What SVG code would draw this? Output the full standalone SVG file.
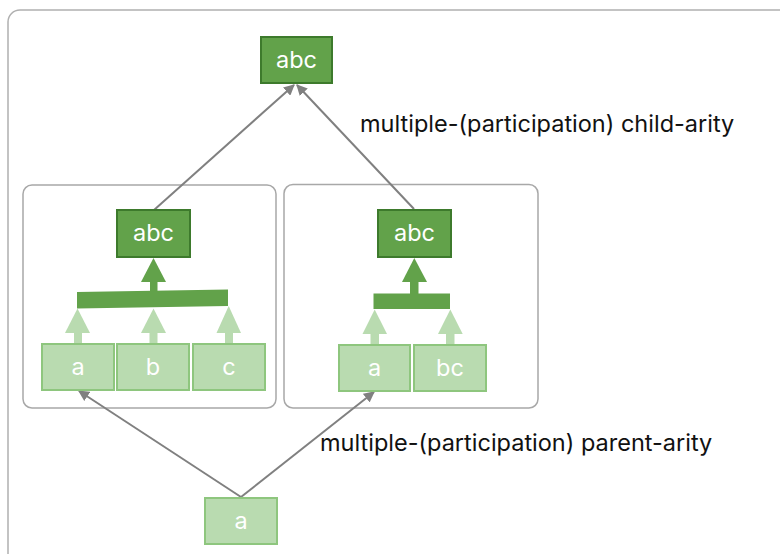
<svg xmlns="http://www.w3.org/2000/svg" width="780" height="554" viewBox="0 0 780 554">
<defs>
<style>
.frame{fill:#fff;stroke:#b0b0b0;stroke-width:1.5}
.grp{fill:none;stroke:#a8a8a8;stroke-width:1.5}
.dark{fill:#62a24a;stroke:#3d7a2c;stroke-width:2}
.light{fill:#b9dbb0;stroke:#8ec67e;stroke-width:2}
.nt{font-family:Inter,"Liberation Sans",sans-serif;font-size:23.5px;fill:#fff;text-anchor:middle;dominant-baseline:central}
.lbl{font-family:Inter,"Liberation Sans",sans-serif;font-size:23.5px;fill:#111}
.conn{stroke:#808080;stroke-width:2;fill:none;marker-end:url(#ah)}
.bar{fill:#62a24a}
.larr{fill:#b9dbb0}
</style>
<marker id="ah" viewBox="0 0 10 10" refX="9" refY="5" markerWidth="5.5" markerHeight="5.5" orient="auto" markerUnits="strokeWidth">
<path d="M0,0 L10,5 L0,10 z" fill="#808080"/>
</marker>
</defs>
<rect class="frame" x="8" y="10" width="792" height="556" rx="12"/>
<g id="group-left"><rect class="grp" x="23" y="185" width="253" height="223" rx="9"/></g>
<g id="group-right"><rect class="grp" x="284" y="184.5" width="254" height="223.5" rx="9"/></g>

<g id="connectors">
<line class="conn" x1="154" y1="210" x2="294" y2="85"/>
<line class="conn" x1="414" y1="209" x2="297" y2="85"/>
<line class="conn" x1="241" y1="497" x2="79" y2="391"/>
<line class="conn" x1="241" y1="497" x2="374" y2="392"/>
</g>

<g id="node-top-abc"><rect class="dark" x="261" y="37" width="71" height="46"/><text class="nt" x="296.5" y="59">abc</text></g>

<g id="left-join">
<polygon class="bar" points="77,292 228,289.5 228,306 77,308.5"/>
<rect class="bar" x="150" y="280" width="7.5" height="11"/>
<polygon class="bar" points="141,282 166,282 153.5,258"/>
<rect class="larr" x="74" y="331" width="8" height="13"/>
<polygon class="larr" points="65,333 90,333 77.5,308.5"/>
<rect class="larr" x="149.5" y="331" width="8" height="13"/>
<polygon class="larr" points="141,333 166,333 153.5,308.5"/>
<rect class="larr" x="225" y="331" width="8" height="13"/>
<polygon class="larr" points="216.5,333 241,333 228.7,306"/>
</g>
<g id="node-left-abc"><rect class="dark" x="117" y="210" width="73" height="47"/><text class="nt" x="153.5" y="232.5">abc</text></g>
<g id="node-left-a"><rect class="light" x="42" y="344" width="72" height="46"/><text class="nt" x="78" y="366">a</text></g>
<g id="node-left-b"><rect class="light" x="117" y="344" width="72" height="46"/><text class="nt" x="153" y="366">b</text></g>
<g id="node-left-c"><rect class="light" x="193" y="344" width="72" height="46"/><text class="nt" x="229" y="366">c</text></g>

<g id="right-join">
<polygon class="bar" points="373.5,293.5 450,293.5 450,309 373.5,309"/>
<rect class="bar" x="410" y="280" width="8.5" height="14"/>
<polygon class="bar" points="402,282 427,282 414.3,258"/>
<rect class="larr" x="370.5" y="331" width="8.5" height="14"/>
<polygon class="larr" points="362.5,334 387,334 374.7,309.5"/>
<rect class="larr" x="446" y="331" width="8.5" height="14"/>
<polygon class="larr" points="438,334 462.7,334 450.3,309.5"/>
</g>
<g id="node-right-abc"><rect class="dark" x="378" y="210" width="73" height="47"/><text class="nt" x="414.5" y="232.5">abc</text></g>
<g id="node-right-a"><rect class="light" x="339" y="345" width="71" height="46"/><text class="nt" x="374.5" y="367">a</text></g>
<g id="node-right-bc"><rect class="light" x="414" y="345" width="72" height="46"/><text class="nt" x="450" y="367">bc</text></g>

<g id="node-bottom-a"><rect class="light" x="205" y="498" width="72" height="46"/><text class="nt" x="241" y="520">a</text></g>

<text class="lbl" x="360" y="132">multiple-(participation) child-arity</text>
<text class="lbl" x="320" y="451">multiple-(participation) parent-arity</text>
</svg>
